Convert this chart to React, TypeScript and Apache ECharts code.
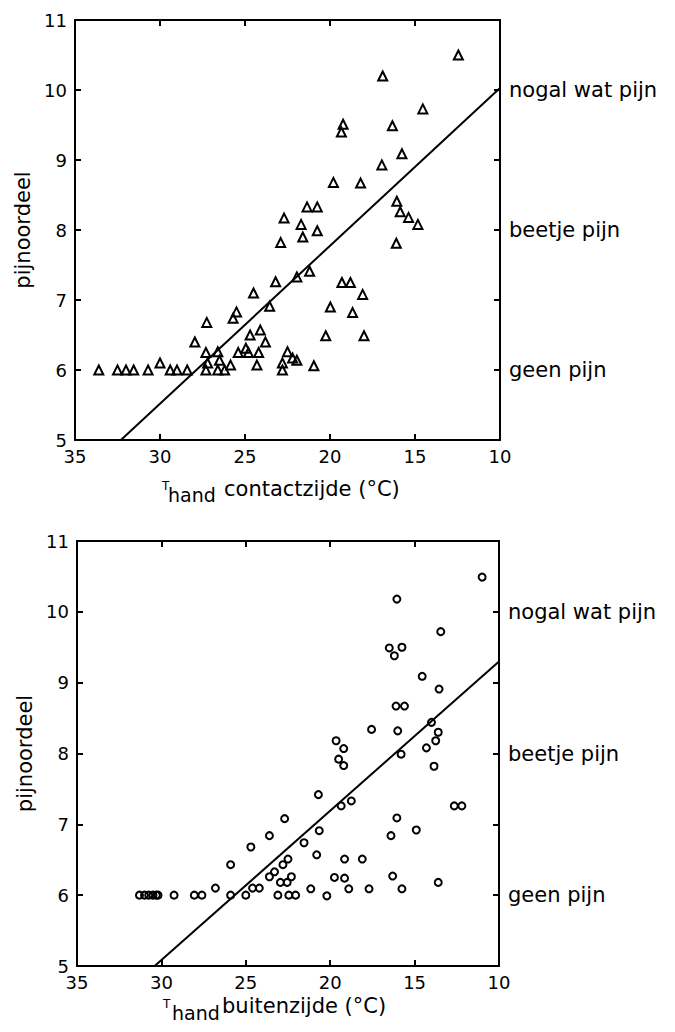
import React, { useEffect, useRef } from "react";
import * as echarts from "echarts";

// Top panel: T_hand contactzijde (°C) vs pijnoordeel
const contactTemp = [
  33.6, 32.5, 32.0, 31.55, 30.7, 30.0, 29.4, 29.0, 28.4, 27.95, 27.25, 27.3, 27.2, 27.3,
  26.6, 26.5, 26.6, 26.2, 25.85, 25.7, 25.5, 25.4, 24.95, 24.8, 24.7, 24.5, 24.3, 24.2,
  24.1, 23.8, 23.55, 23.2, 22.9, 22.7, 22.8, 22.8, 22.5, 22.2, 21.95, 21.95, 21.7, 21.6,
  21.35, 20.75, 20.75, 21.2, 20.95, 20.25, 19.98, 19.8, 19.33, 19.23, 19.3, 18.8, 18.67,
  18.2, 18.08, 18.0, 16.95, 16.9, 16.33, 16.07, 15.87, 15.38, 14.83, 16.1, 15.77, 14.54,
  12.45,
];
const contactPain = [
  6.0, 6.0, 6.0, 6.0, 6.0, 6.1, 6.0, 6.0, 6.0, 6.4, 6.68, 6.25, 6.1, 6.0,
  6.26, 6.14, 6.0, 6.0, 6.07, 6.74, 6.83, 6.25, 6.31, 6.25, 6.5, 7.1, 6.07, 6.25,
  6.57, 6.4, 6.91, 7.26, 7.82, 8.17, 6.1, 6.0, 6.26, 6.17, 6.14, 7.33, 8.08, 7.9,
  8.33, 8.33, 7.99, 7.41, 6.06, 6.49, 6.9, 8.68, 9.4, 9.51, 7.25, 7.25, 6.82,
  8.67, 7.08, 6.49, 8.93, 10.2, 9.49, 8.41, 8.26, 8.18, 8.08, 7.81, 9.09, 9.73,
  10.5,
];
const contactFitTemp = [32.3, 10];
const contactFitPain = [5, 10.03];

// Bottom panel: T_hand buitenzijde (°C) vs pijnoordeel
const outerTemp = [
  31.3, 31.0, 30.75, 30.5, 30.3, 30.2, 29.25, 28.05, 27.6, 26.8, 25.9, 25.9, 25.0, 24.7,
  24.6, 24.2, 23.6, 23.6, 23.3, 23.1, 22.95, 22.8, 22.7, 22.55, 22.5, 22.45, 22.05, 22.3,
  21.55, 20.8, 20.65, 20.7, 21.15, 20.2, 19.75, 19.65, 19.5, 19.35, 19.2, 19.2, 19.15,
  19.15, 18.9, 18.75, 18.1, 17.7, 17.55, 16.5, 16.2, 15.75, 16.05, 16.1, 15.6, 16.0,
  15.8, 16.05, 16.4, 16.3, 15.75, 14.9, 14.55, 14.3, 14.0, 13.85, 13.75, 13.6, 13.55,
  13.45, 13.6, 12.65, 12.2, 11.0,
];
const outerPain = [
  6.0, 6.0, 6.0, 6.0, 6.0, 6.0, 6.0, 6.0, 6.0, 6.1, 6.43, 6.0, 6.0, 6.68,
  6.1, 6.1, 6.84, 6.26, 6.33, 6.0, 6.18, 6.43, 7.08, 6.18, 6.51, 6.0, 6.0, 6.26,
  6.74, 6.57, 6.91, 7.42, 6.09, 5.99, 6.25, 8.18, 7.92, 7.26, 8.07, 7.83, 6.51,
  6.24, 6.09, 7.33, 6.51, 6.09, 8.34, 9.49, 9.38, 9.5, 10.18, 8.67, 8.67, 8.32,
  7.99, 7.09, 6.84, 6.27, 6.09, 6.92, 9.09, 8.08, 8.44, 7.82, 8.18, 8.3, 8.91,
  9.72, 6.18, 7.26, 7.26, 10.49,
];
const outerFitTemp = [30.4, 10];
const outerFitPain = [5, 9.3];

const painLevelLabels: Record<number, string> = {
  10: "nogal wat pijn",
  8: "beetje pijn",
  6: "geen pijn",
};
const yAxisTitle = "pijnoordeel";
const xTitleSub = "hand";
const xTitleTop = "contactzijde (°C)";
const xTitleBottom = "buitenzijde (°C)";

const FONT = "'DejaVu Sans', 'Liberation Sans', sans-serif";

function zip(a: number[], b: number[]) {
  return a.map((v, i) => [v, b[i]]);
}

export default function App() {
  const ref = useRef<HTMLDivElement>(null);
  useEffect(() => {
    if (!ref.current) return;
    const chart = echarts.init(ref.current, null, { renderer: "svg" });
    const axisLine = { show: true, lineStyle: { color: "#000", width: 2 } };
    const tick = { show: true, inside: true, length: 6, lineStyle: { color: "#000", width: 2 } };
    const mkX = (grid: number, pos: "bottom" | "top", labels: boolean) => ({
      type: "value",
      gridIndex: grid,
      position: pos,
      inverse: true,
      min: 10,
      max: 35,
      interval: 5,
      axisLine,
      axisTick: tick,
      splitLine: { show: false },
      axisLabel: labels
        ? { show: true, color: "#000", fontSize: 18, fontFamily: FONT, margin: 7 }
        : { show: false },
    });
    const mkYLeft = (grid: number) => ({
      type: "value",
      gridIndex: grid,
      position: "left",
      min: 5,
      max: 11,
      interval: 1,
      axisLine,
      axisTick: tick,
      splitLine: { show: false },
      axisLabel: { show: true, color: "#000", fontSize: 18, fontFamily: FONT, margin: 8 },
      name: yAxisTitle,
      nameLocation: "middle",
      nameRotate: 90,
      nameGap: 42,
      nameTextStyle: { color: "#000", fontSize: 21, fontFamily: FONT },
    });
    const mkYRight = (grid: number) => ({
      type: "value",
      gridIndex: grid,
      position: "right",
      min: 5,
      max: 11,
      interval: 1,
      axisLine,
      axisTick: tick,
      splitLine: { show: false },
      axisLabel: {
        show: true,
        color: "#000",
        fontSize: 21,
        fontFamily: FONT,
        margin: 9,
        formatter: (v: number) => painLevelLabels[v] ?? "",
      },
    });
    const markStyle = { color: "rgba(0,0,0,0)", borderColor: "#000", borderWidth: 2, opacity: 1 };
    const lineStyle = { color: "#000", width: 2 };
    const txt = (text: string, x: number, y: number, size: number) => ({
      type: "text",
      x,
      y,
      style: { text, fill: "#000", fontSize: size, fontFamily: FONT, verticalAlign: "middle", align: "left" },
    });
    chart.setOption({
      animation: false,
      backgroundColor: "#fff",
      textStyle: { fontFamily: FONT },
      grid: [
        { left: 75, top: 20, width: 425, height: 420 },
        { left: 77, top: 541, width: 422, height: 425 },
      ],
      xAxis: [mkX(0, "bottom", true), mkX(0, "top", false), mkX(1, "bottom", true), mkX(1, "top", false)],
      yAxis: [mkYLeft(0), mkYRight(0), mkYLeft(1), mkYRight(1)],
      series: [
        {
          type: "scatter",
          xAxisIndex: 0,
          yAxisIndex: 0,
          symbol: "triangle",
          symbolSize: 9,
          itemStyle: markStyle,
          data: zip(contactTemp, contactPain),
        },
        {
          type: "line",
          xAxisIndex: 0,
          yAxisIndex: 0,
          symbol: "none",
          lineStyle,
          data: zip(contactFitTemp, contactFitPain),
        },
        {
          type: "scatter",
          xAxisIndex: 2,
          yAxisIndex: 2,
          symbol: "circle",
          symbolSize: 7,
          itemStyle: markStyle,
          data: zip(outerTemp, outerPain),
        },
        {
          type: "line",
          xAxisIndex: 2,
          yAxisIndex: 2,
          symbol: "none",
          lineStyle,
          data: zip(outerFitTemp, outerFitPain),
        },
      ],
      graphic: [
        txt("T", 162, 486, 12),
        txt(xTitleSub, 168, 495, 19),
        txt(xTitleTop, 224, 489, 21),
        txt("T", 163, 1004, 12),
        txt(xTitleSub, 172, 1013, 19),
        txt(xTitleBottom, 222, 1006, 21),
      ],
    });
    return () => chart.dispose();
  }, []);
  return (
    <div
      ref={ref}
      style={{ position: "absolute", left: 0, top: 0, width: 675, height: 1032 }}
    />
  );
}
